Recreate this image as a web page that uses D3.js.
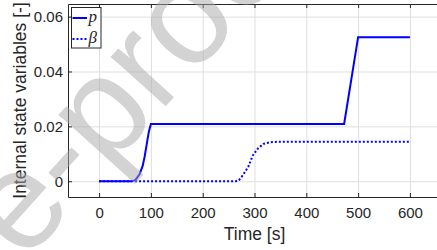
<!DOCTYPE html>
<html>
<head>
<meta charset="utf-8">
<script src="https://cdn.jsdelivr.net/npm/d3@7"></script>
<style>
  body { margin: 0; background: #fff; }
  svg { display: block; font-family: "Liberation Sans", Arial, sans-serif; }
  .tick text { fill: #262626; font-size: 15px; }
  .grid line { stroke: #dfdfdf; stroke-width: 1; }
  .grid path { display: none; }
</style>
</head>
<body>
<svg width="437" height="250"></svg>
<script>
// p: solid line
const timeP = [0, 62, 70, 78, 84, 88, 92, 96, 100, 473, 500, 600];
const valueP = [0, 0, 0.0004, 0.0025, 0.0055, 0.009, 0.0135, 0.018, 0.0209, 0.0209, 0.0525, 0.0525];
// beta: dotted line
const timeBeta = [0, 264, 270, 278, 288, 297, 307, 317, 330, 345, 600];
const valueBeta = [0, 0, 0.0004, 0.0023, 0.0053, 0.0095, 0.012, 0.0136, 0.0142, 0.0144, 0.0144];

const xTicks = [0, 100, 200, 300, 400, 500, 600];
const yTicks = [0, 0.02, 0.04, 0.06];
const seriesNames = ['p', 'β'];

const M = { left: 68, top: 4, right: 441, bottom: 197 };

const x = d3.scaleLinear().domain([-60, 660]).range([M.left, M.right]);
const y = d3.scaleLinear().domain([-0.00575, 0.0646]).range([M.bottom, M.top]);

const svg = d3.select('svg');

// grid
svg.append('g')
  .attr('class', 'grid')
  .attr('transform', `translate(0, ${M.bottom})`)
  .call(d3.axisBottom(x).tickValues(xTicks).tickSize(-(M.bottom - M.top)).tickFormat(''));
svg.append('g')
  .attr('class', 'grid')
  .attr('transform', `translate(${M.left}, 0)`)
  .call(d3.axisLeft(y).tickValues(yTicks).tickSize(-(M.right - M.left)).tickFormat(''));

const line = d3.line().x((d) => x(d[0])).y((d) => y(d[1]));

svg.append('path')
  .datum(timeBeta.map((t, i) => [t, valueBeta[i]]))
  .attr('d', line)
  .attr('fill', 'none')
  .attr('stroke', '#0000ff')
  .attr('stroke-width', 2)
  .attr('stroke-dasharray', '2,2');

svg.append('path')
  .datum(timeP.map((t, i) => [t, valueP[i]]))
  .attr('d', line)
  .attr('fill', 'none')
  .attr('stroke', '#0000ff')
  .attr('stroke-width', 2);

// axes
const styleAxis = (g) => {
  g.select('.domain').attr('stroke', '#262626');
  g.selectAll('.tick line').attr('stroke', '#262626');
};

svg.append('g')
  .attr('transform', `translate(0, ${M.bottom})`)
  .call(d3.axisBottom(x).tickValues(xTicks).tickSizeInner(-4).tickSizeOuter(0).tickPadding(10))
  .call(styleAxis);
svg.append('g')
  .attr('transform', `translate(0, ${M.top})`)
  .call(d3.axisTop(x).tickValues(xTicks).tickSizeInner(-4).tickSizeOuter(0).tickFormat(''))
  .call(styleAxis);
svg.append('g')
  .attr('transform', `translate(${M.left}, 0)`)
  .call(d3.axisLeft(y).tickValues(yTicks).tickSizeInner(-4).tickSizeOuter(0).tickPadding(5)
    .tickFormat((d) => (d === 0 ? '0' : d3.format('.2f')(d))))
  .call(styleAxis);

svg.selectAll('.tick text').attr('font-family', null).attr('font-size', null);

// labels
svg.append('text')
  .attr('x', (M.left + M.right) / 2)
  .attr('y', 239.5)
  .attr('text-anchor', 'middle')
  .attr('fill', '#262626')
  .attr('font-size', 17.5)
  .text('Time [s]');

svg.append('text')
  .attr('transform', `translate(26, ${(M.top + M.bottom) / 2}) rotate(-90)`)
  .attr('text-anchor', 'middle')
  .attr('fill', '#262626')
  .attr('font-size', 17.5)
  .text('Internal state variables [-]');

// legend
const legend = svg.append('g');
legend.append('rect')
  .attr('x', 71.5).attr('y', 7.5).attr('width', 29.5).attr('height', 40.5)
  .attr('fill', '#fff').attr('stroke', '#262626');
seriesNames.forEach((name, i) => {
  const ly = 18 + i * 21;
  legend.append('line')
    .attr('x1', 72.5).attr('x2', 87).attr('y1', ly).attr('y2', ly)
    .attr('stroke', '#0000ff').attr('stroke-width', 2)
    .attr('stroke-dasharray', i === 1 ? '2,2' : null);
  legend.append('text')
    .attr('x', 88.5).attr('y', ly + 4)
    .attr('font-family', '"Liberation Serif", "Times New Roman", serif')
    .attr('font-style', 'italic')
    .attr('font-size', 17)
    .attr('fill', '#262626')
    .text(name);
});

// watermark
const wm = svg.append('g')
  .attr('transform', 'translate(76, 206) rotate(-48)')
  .attr('font-size', 140)
  .attr('fill', '#a8a8a8')
  .attr('fill-opacity', 0.5);
wm.append('text').attr('text-anchor', 'end').text('Journal Pre');
wm.append('text').attr('text-anchor', 'start').text('-proof');
</script>
</body>
</html>
